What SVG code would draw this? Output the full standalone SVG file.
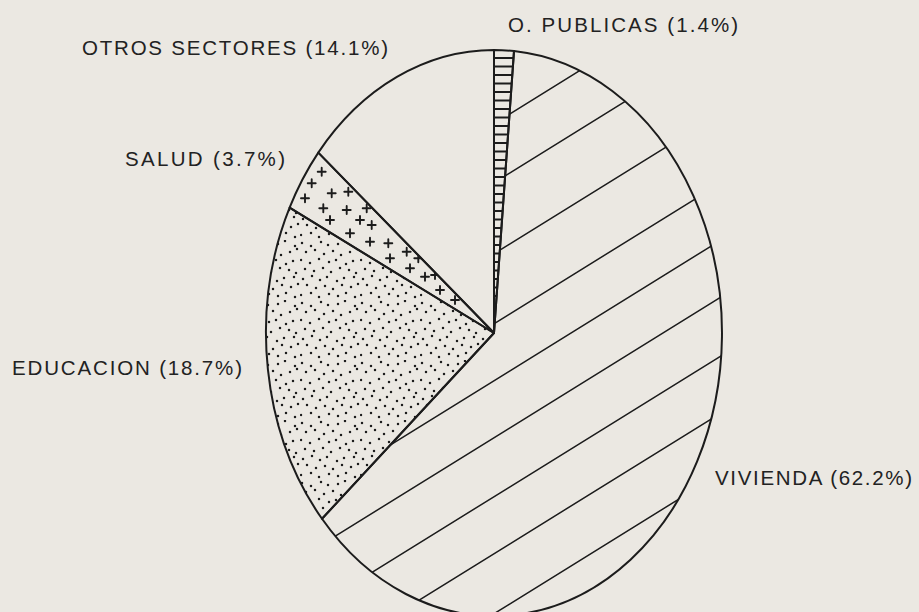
<svg xmlns="http://www.w3.org/2000/svg" width="919" height="612" viewBox="0 0 919 612">
<style>
.bg{fill:#ebe8e2}
.edge{fill:none;stroke:#1c1c1c;stroke-width:2;stroke-linejoin:round}
.hatch{stroke:#1c1c1c;stroke-width:1.5;fill:none}
.rung{stroke:#1c1c1c;stroke-width:1.8;fill:none}
.cross{stroke:#1c1c1c;stroke-width:1.9;fill:none;stroke-linecap:round}
.lbl{font-family:"Liberation Sans",Arial,sans-serif;font-size:20.5px;fill:#222}
</style>
<defs>
<clipPath id="cViv"><path d="M494,333 L514.0,51.1 A228,283 0 1 1 322.0,518.8 Z"/></clipPath>
<clipPath id="cSal"><path d="M494,333 L289.6,207.7 A228,283 0 0 1 318.3,152.6 Z"/></clipPath>
<clipPath id="cPub"><path d="M494,333 L494,50 A228,283 0 0 1 514.0,51.1 Z"/></clipPath>
<pattern id="dots" width="60" height="60" patternUnits="userSpaceOnUse">
<g fill="#1c1c1c">
<circle cx="2" cy="3" r="1.25"/><circle cx="11" cy="6" r="1.25"/><circle cx="21" cy="2" r="1.25"/><circle cx="28" cy="5" r="1.25"/><circle cx="38" cy="4" r="1.25"/><circle cx="45" cy="1" r="1.25"/><circle cx="55" cy="6" r="1.25"/>
<circle cx="6" cy="12" r="1.25"/><circle cx="15" cy="10" r="1.25"/><circle cx="24" cy="14" r="1.25"/><circle cx="33" cy="11" r="1.25"/><circle cx="41" cy="15" r="1.25"/><circle cx="50" cy="12" r="1.25"/><circle cx="57" cy="9" r="1.25"/>
<circle cx="1" cy="20" r="1.25"/><circle cx="10" cy="23" r="1.25"/><circle cx="19" cy="19" r="1.25"/><circle cx="29" cy="22" r="1.25"/><circle cx="36" cy="20" r="1.25"/><circle cx="46" cy="24" r="1.25"/><circle cx="53" cy="21" r="1.25"/>
<circle cx="5" cy="29" r="1.25"/><circle cx="14" cy="31" r="1.25"/><circle cx="23" cy="28" r="1.25"/><circle cx="31" cy="32" r="1.25"/><circle cx="40" cy="28" r="1.25"/><circle cx="49" cy="30" r="1.25"/><circle cx="56" cy="33" r="1.25"/>
<circle cx="3" cy="39" r="1.25"/><circle cx="12" cy="36" r="1.25"/><circle cx="20" cy="40" r="1.25"/><circle cx="27" cy="37" r="1.25"/><circle cx="37" cy="41" r="1.25"/><circle cx="44" cy="38" r="1.25"/><circle cx="54" cy="37" r="1.25"/>
<circle cx="7" cy="45" r="1.25"/><circle cx="16" cy="48" r="1.25"/><circle cx="25" cy="46" r="1.25"/><circle cx="33" cy="49" r="1.25"/><circle cx="42" cy="45" r="1.25"/><circle cx="51" cy="47" r="1.25"/><circle cx="58" cy="44" r="1.25"/>
<circle cx="1" cy="55" r="1.25"/><circle cx="11" cy="53" r="1.25"/><circle cx="19" cy="57" r="1.25"/><circle cx="29" cy="54" r="1.25"/><circle cx="38" cy="56" r="1.25"/><circle cx="46" cy="53" r="1.25"/><circle cx="55" cy="57" r="1.25"/>
</g>
</pattern>
</defs>
<rect class="bg" x="0" y="0" width="919" height="612"/>

<g id="vivienda">
<g clip-path="url(#cViv)">
<path class="hatch" d="M250,275 L760,-41.2 M250,334 L760,17.8 M250,405 L760,88.8 M250,475 L760,158.8 M250,532 L760,215.8 M250,589 L760,272.8 M250,648 L760,331.8 M250,705 L760,388.8 M250,765 L760,448.8"/>
</g>
<path class="edge" d="M494,333 L514.0,51.1 A228,283 0 1 1 322.0,518.8 Z"/>
</g>

<g id="educacion">
<path d="M494,333 L322.0,518.8 A228,283 0 0 1 289.6,207.7 Z" fill="url(#dots)"/>
<path class="edge" d="M494,333 L322.0,518.8 A228,283 0 0 1 289.6,207.7 Z"/>
</g>

<g id="salud">
<g clip-path="url(#cSal)">
<path class="cross" d="M317.7,171.7h8M321.7,167.7v8 M307.7,183.3h8M311.7,179.3v8 M327.7,193.3h8M331.7,189.3v8 M344.3,191.7h8M348.3,187.7v8 M301,198.3h8M305,194.3v8 M319.3,208.3h8M323.3,204.3v8 M342.7,210h8M346.7,206v8 M362.7,208.3h8M366.7,204.3v8 M326,220h8M330,216v8 M356,220h8M360,216v8 M367.7,225h8M371.7,221v8 M346,233.3h8M350,229.3v8 M366,241.7h8M370,237.7v8 M384.3,243.3h8M388.3,239.3v8 M402.7,251.7h8M406.7,247.7v8 M414.3,258.3h8M418.3,254.3v8 M386,258.3h8M390,254.3v8 M406,268.3h8M410,264.3v8 M421,276.7h8M425,272.7v8 M431,275h8M435,271v8 M436,290h8M440,286v8 M451,300h8M455,296v8"/>
</g>
<path class="edge" d="M494,333 L289.6,207.7 A228,283 0 0 1 318.3,152.6 Z"/>
</g>

<g id="otros">
<path class="edge" d="M494,333 L318.3,152.6 A228,283 0 0 1 494,50 Z"/>
</g>

<g id="opublicas">
<g clip-path="url(#cPub)">
<path class="rung" d="M480,58h40M480,66.5h40M480,75h40M480,83.5h40M480,92h40M480,100.5h40M480,109h40M480,117.5h40M480,126h40M480,134.5h40M480,143h40M480,151.5h40M480,160h40M480,168.5h40M480,177h40M480,185.5h40M480,194h40M480,202.5h40M480,211h40M480,219.5h40M480,228h40M480,236.5h40M480,245h40M480,253.5h40M480,262h40M480,270.5h40M480,279h40M480,287.5h40M480,296h40M480,304.5h40M480,313h40M480,321.5h40"/>
</g>
<path class="edge" d="M494,333 L494,50 A228,283 0 0 1 514.0,51.1 Z"/>
</g>

<g id="labels">
<text class="lbl" x="508" y="32" textLength="230" lengthAdjust="spacing">O. PUBLICAS (1.4%)</text>
<text class="lbl" x="82" y="54.5" textLength="306" lengthAdjust="spacing">OTROS SECTORES (14.1%)</text>
<text class="lbl" x="125" y="166" textLength="160" lengthAdjust="spacing">SALUD (3.7%)</text>
<text class="lbl" x="12" y="375" textLength="230" lengthAdjust="spacing">EDUCACION (18.7%)</text>
<text class="lbl" x="715" y="485" textLength="197" lengthAdjust="spacing">VIVIENDA (62.2%)</text>
</g>
</svg>
